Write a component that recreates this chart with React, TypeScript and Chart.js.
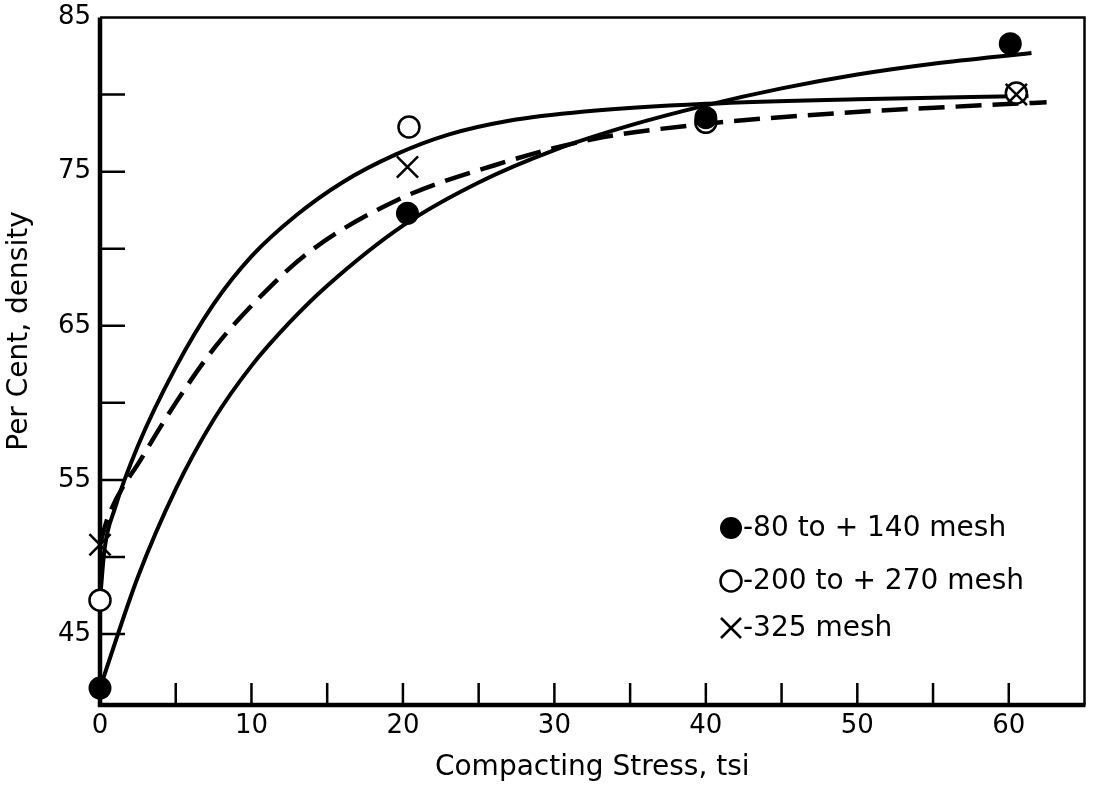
import React, { useEffect, useRef } from "react";
import { Chart, registerables } from "chart.js";

Chart.register(...registerables);

// ---- axis ticks / labels ----
const xMajorTicks = [0, 10, 20, 30, 40, 50, 60];
const xMinorTicks = [0, 5, 10, 15, 20, 25, 30, 35, 40, 45, 50, 55, 60];
const yMajorTicks = [45, 55, 65, 75, 85];
const yMinorTicks = [45, 50, 55, 60, 65, 70, 75, 80, 85];
const xTitle = "Compacting Stress, tsi";
const yTitle = "Per Cent, density";

// ---- measured points ----
const coarseStress = [0, 20.3, 40, 60.1];
const coarseDensity = [41.5, 72.3, 78.5, 83.3];
const mediumStress = [0, 20.4, 40, 60.5];
const mediumDensity = [47.2, 77.9, 78.2, 80.1];
const fineStress = [0, 20.3, 60.5];
const fineDensity = [50.8, 75.3, 80.0];

// ---- fitted curves ----
const coarseCurveX = [0, 2.5, 5, 7.5, 10, 12.5, 15, 20, 25, 30, 35, 40, 45, 50, 55, 61.5];
const coarseCurveY = [41.5, 48.7, 54.4, 58.9, 62.4, 65.2, 67.6, 71.5, 74.3, 76.4, 78.0, 79.3, 80.4, 81.3, 82.0, 82.7];
const mediumCurveX = [0, 0.3, 1, 2.5, 5, 7.5, 10, 13, 16, 19.5, 23, 27, 32, 40, 50, 61.3];
const mediumCurveY = [47.2, 50.5, 53.2, 57.2, 62.3, 66.4, 69.5, 72.2, 74.3, 76.1, 77.4, 78.3, 78.9, 79.4, 79.7, 79.9];
const fineCurveX = [0, 0.5, 2.8, 5, 7.5, 10, 13.7, 19.5, 26, 32.5, 40, 48.8, 60.3, 62.5];
const fineCurveY = [50.8, 52.5, 56.5, 60, 63.5, 66.3, 69.7, 73.1, 75.4, 77.1, 78.1, 78.8, 79.4, 79.5];

const legendLabels = ["-80 to + 140 mesh", "-200 to + 270 mesh", "-325 mesh"];

const FONT = "'DejaVu Sans', sans-serif";

const toPts = (xs: number[], ys: number[]) => xs.map((x, i) => ({ x, y: ys[i] }));

const framePlugin = {
  id: "frameTicks",
  beforeDatasetsDraw(chart: any) {
    const { ctx, chartArea, scales } = chart;
    const { left, right, top, bottom } = chartArea;
    const x = scales.x;
    const y = scales.y;
    ctx.save();
    ctx.strokeStyle = "#000";
    ctx.lineCap = "butt";
    ctx.lineWidth = 2.5;
    ctx.beginPath();
    ctx.moveTo(left, top);
    ctx.lineTo(right, top);
    ctx.lineTo(right, bottom);
    ctx.stroke();
    ctx.lineWidth = 4.5;
    ctx.beginPath();
    ctx.moveTo(left, top);
    ctx.lineTo(left, bottom);
    ctx.lineTo(right + 1, bottom);
    ctx.stroke();
    ctx.lineWidth = 2.5;
    ctx.beginPath();
    xMinorTicks.forEach((v) => {
      const px = x.getPixelForValue(v);
      ctx.moveTo(px, bottom);
      ctx.lineTo(px, bottom - 22);
    });
    yMinorTicks.forEach((v) => {
      const py = y.getPixelForValue(v);
      if (py < top + 1) return;
      ctx.moveTo(left, py);
      ctx.lineTo(left + 25, py);
    });
    ctx.stroke();
    // x tick labels
    ctx.fillStyle = "#000";
    ctx.font = `26px ${FONT}`;
    ctx.textAlign = "center";
    ctx.textBaseline = "middle";
    xMajorTicks.forEach((v) => {
      ctx.fillText(String(v), x.getPixelForValue(v), bottom + 21);
    });
    // rotated y title
    ctx.font = `28px ${FONT}`;
    ctx.translate(20, 331);
    ctx.rotate(-Math.PI / 2);
    ctx.fillText(yTitle, 0, 0);
    ctx.restore();
  },
};

const legendPlugin = {
  id: "customLegend",
  afterDatasetsDraw(chart: any) {
    const { ctx } = chart;
    const mx = 731;
    const rows = [528, 581, 628];
    ctx.save();
    ctx.fillStyle = "#000";
    ctx.strokeStyle = "#000";
    ctx.beginPath();
    ctx.arc(mx, rows[0], 11, 0, Math.PI * 2);
    ctx.fill();
    ctx.lineWidth = 2.5;
    ctx.beginPath();
    ctx.arc(mx, rows[1], 10.5, 0, Math.PI * 2);
    ctx.stroke();
    ctx.beginPath();
    ctx.moveTo(mx - 10, rows[2] - 10);
    ctx.lineTo(mx + 10, rows[2] + 10);
    ctx.moveTo(mx + 10, rows[2] - 10);
    ctx.lineTo(mx - 10, rows[2] + 10);
    ctx.stroke();
    ctx.font = `28px ${FONT}`;
    ctx.textBaseline = "middle";
    ctx.textAlign = "left";
    legendLabels.forEach((t, i) => ctx.fillText(t, mx + 12, rows[i] + 1));
    ctx.restore();
  },
};

export default function App() {
  const ref = useRef<HTMLCanvasElement | null>(null);
  useEffect(() => {
    if (!ref.current) return;
    const lineBase = {
      type: "line" as const,
      showLine: true,
      pointRadius: 0,
      borderColor: "#000",
      backgroundColor: "#000",
      fill: false,
      cubicInterpolationMode: "monotone" as const,
      clip: false as const,
      order: 10,
    };
    const chart = new Chart(ref.current, {
      type: "scatter",
      data: {
        datasets: [
          {
            label: legendLabels[0],
            data: toPts(coarseStress, coarseDensity),
            pointStyle: "circle",
            pointRadius: 11.5,
            pointBackgroundColor: "#000",
            pointBorderWidth: 0,
            clip: false,
            order: 0,
          } as any,
          {
            label: legendLabels[2],
            data: toPts(fineStress, fineDensity),
            pointStyle: "crossRot",
            pointRadius: 15,
            pointBorderColor: "#000",
            pointBorderWidth: 2.5,
            clip: false,
            order: 1,
          } as any,
          {
            label: legendLabels[1],
            data: toPts(mediumStress, mediumDensity),
            pointStyle: "circle",
            pointRadius: 10.5,
            pointBackgroundColor: "#fff",
            pointBorderColor: "#000",
            pointBorderWidth: 2.5,
            clip: false,
            order: 2,
          } as any,
          { ...lineBase, label: "coarse fit", data: toPts(coarseCurveX, coarseCurveY), borderWidth: 4 } as any,
          { ...lineBase, label: "medium fit", data: toPts(mediumCurveX, mediumCurveY), borderWidth: 4 } as any,
          {
            ...lineBase,
            label: "fine fit",
            data: toPts(fineCurveX, fineCurveY),
            borderWidth: 4.5,
            borderDash: [26, 11],
          } as any,
        ],
      },
      options: {
        animation: false,
        responsive: false,
        maintainAspectRatio: false,
        layout: { padding: { top: 16, right: 3, left: 0, bottom: 0 } },
        plugins: { legend: { display: false }, tooltip: { enabled: false } },
        scales: {
          x: {
            type: "linear",
            min: 0,
            max: 65,
            grid: { display: false },
            border: { display: false },
            afterBuildTicks: (s: any) => {
              s.ticks = xMajorTicks.map((v) => ({ value: v }));
            },
            afterFit: (s: any) => {
              s.height = 86;
              s.paddingLeft = 0;
              s.paddingRight = 0;
            },
            ticks: { display: false },
            title: {
              display: true,
              text: xTitle,
              color: "#000",
              font: { family: FONT, size: 28 },
              padding: { top: 0, bottom: 6 },
            },
          },
          y: {
            type: "linear",
            min: 40.4,
            max: 85,
            grid: { display: false },
            border: { display: false },
            afterBuildTicks: (s: any) => {
              s.ticks = yMajorTicks.map((v) => ({ value: v }));
            },
            afterFit: (s: any) => {
              s.width = 100;
              s.paddingTop = 0;
              s.paddingBottom = 0;
            },
            ticks: {
              color: "#000",
              padding: 1,
              font: { family: FONT, size: 26 },
            },
            title: { display: false, text: yTitle },
          },
        },
      },
      plugins: [framePlugin, legendPlugin],
    });
    return () => chart.destroy();
  }, []);
  return (
    <div style={{ position: "fixed", left: 0, top: 0, width: 1102, height: 791, background: "#fff" }}>
      <canvas ref={ref} width={1102} height={791} style={{ display: "block", width: 1102, height: 791 }} />
    </div>
  );
}
